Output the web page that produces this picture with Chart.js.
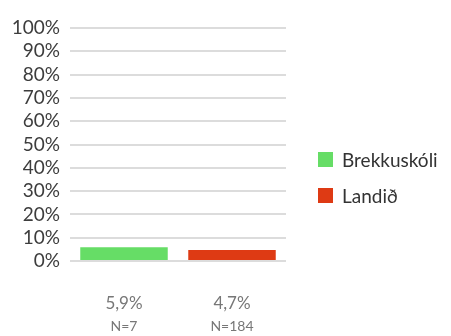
<!DOCTYPE html>
<html>
<head>
<meta charset="utf-8">
<script src="https://cdn.jsdelivr.net/npm/chart.js@4/dist/chart.umd.min.js"></script>
<style>
  html, body { margin: 0; padding: 0; background: #fff; }
  #wrap { width: 451px; height: 336px; position: relative; }
  #legend {
    position: absolute; left: 318px; top: 150px;
    margin: 0; padding: 0; list-style: none;
    font-family: Lato, "Open Sans", sans-serif; font-size: 19px; color: #333;
  }
  #legend li { display: flex; align-items: center; height: 18px; margin-bottom: 18px; white-space: nowrap; }
  #legend .box { width: 15px; height: 15px; margin-right: 9px; flex: none; }
</style>
</head>
<body>
<div id="wrap">
  <canvas id="chart"></canvas>
  <ul id="legend"></ul>
</div>
<script>
// Hlutfall nemenda: skóli vs. landið
const groups = ['Brekkuskóli', 'Landið'];
const values = [5.9, 4.7];
const counts = [7, 184];
const colors = ['#66dd66', '#de3a14'];
const yTicks = [0, 10, 20, 30, 40, 50, 60, 70, 80, 90, 100];

const fmtPct = v => v.toFixed(1).replace('.', ',') + '%';

const FONT = 'Lato, "Open Sans", sans-serif';

// legend lives in the page next to the canvas, built from the chart's own items
const htmlLegend = {
  id: 'htmlLegend',
  afterUpdate(chart) {
    const ul = document.getElementById('legend');
    ul.innerHTML = '';
    chart.options.plugins.legend.labels.generateLabels(chart).forEach(item => {
      const li = document.createElement('li');
      const box = document.createElement('span');
      box.className = 'box';
      box.style.background = item.fillStyle;
      li.appendChild(box);
      li.appendChild(document.createTextNode(item.text));
      ul.appendChild(li);
    });
  }
};

function draw() {
  new Chart(document.getElementById('chart'), {
    type: 'bar',
    data: {
      labels: values.map(fmtPct),
      datasets: groups.map((g, i) => ({
        label: g,
        data: values.map((v, j) => (j === i ? v : null)),
        backgroundColor: colors[i],
        borderWidth: 0,
        categoryPercentage: 0.9,
        barPercentage: 0.9,
        xAxisID: 'x'
      }))
    },
    options: {
      responsive: true,
      maintainAspectRatio: false,
      animation: false,
      skipNull: true,
      layout: { padding: { top: 28, right: 165, bottom: 1, left: 0 } },
      plugins: {
        tooltip: { enabled: false },
        legend: { display: false }
      },
      scales: {
        x: {
          position: 'bottom',
          grid: { display: false, drawTicks: false },
          border: { display: false },
          afterFit: s => { s.height = 52; },
          ticks: {
            color: '#777', padding: 32, maxRotation: 0, minRotation: 0, autoSkip: false,
            font: { family: FONT, size: 17 }
          }
        },
        n: {
          type: 'category',
          position: 'bottom',
          offset: true,
          labels: counts.map(c => 'N=' + c),
          grid: { display: false, drawTicks: false },
          border: { display: false },
          afterFit: s => { s.height = 22; },
          ticks: {
            color: '#777', padding: 5, maxRotation: 0, minRotation: 0, autoSkip: false,
            font: { family: FONT, size: 14 }
          }
        },
        y: {
          min: 0,
          max: 100,
          afterBuildTicks: s => { s.ticks = yTicks.map(v => ({ value: v })); },
          afterFit: s => { s.width = 70; },
          grid: { color: '#dcdcdc', lineWidth: 2, drawTicks: false },
          border: { display: false },
          ticks: {
            color: '#3d3d3d',
            padding: 10,
            autoSkip: false,
            font: { family: FONT, size: 19 },
            callback: v => v + '%'
          }
        }
      }
    },
    plugins: [htmlLegend]
  });
}

Promise.all([
  document.fonts.load('19px Lato'),
  document.fonts.load('14px Lato')
]).then(draw, draw);
</script>
</body>
</html>
